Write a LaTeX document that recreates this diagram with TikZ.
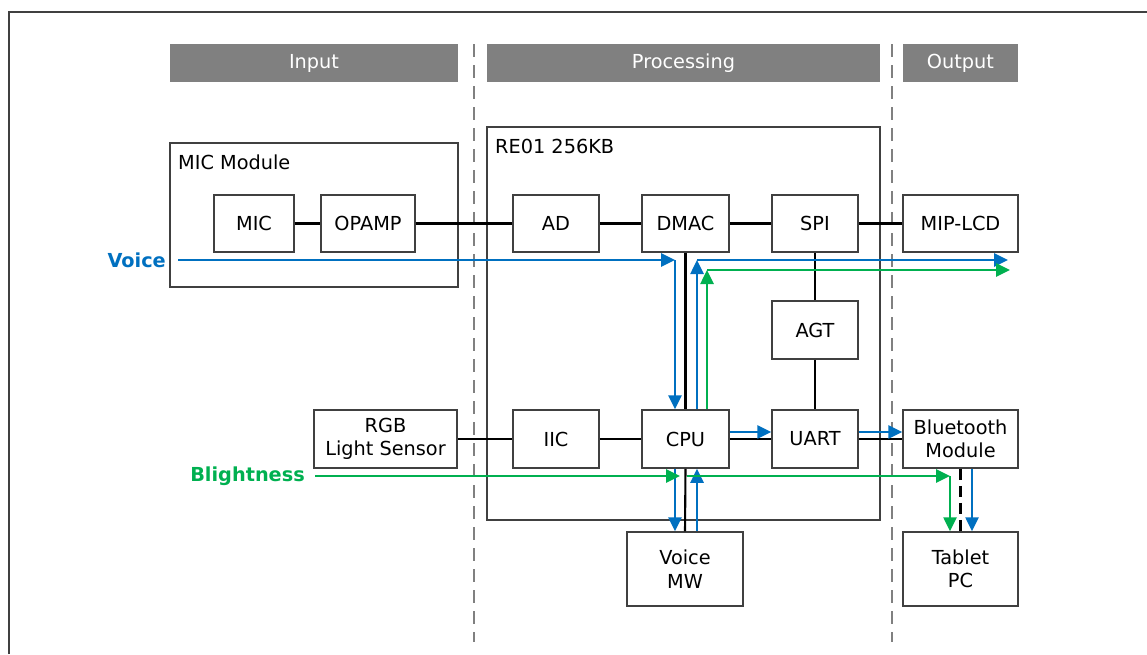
\documentclass[tikz,border=0pt]{standalone}
\usepackage{fontspec}
\setmainfont{DejaVu Sans}
\usetikzlibrary{arrows.meta,calc}
\definecolor{hdr}{HTML}{808080}
\definecolor{vblue}{HTML}{0070C0}
\definecolor{vgreen}{HTML}{00B050}
\definecolor{bord}{HTML}{404040}
\begin{document}
\begin{tikzpicture}[x=1pt,y=-1pt,
  font=\fontsize{19.3}{23.5}\selectfont,
  blk/.style={draw=bord,line width=1.5pt,fill=white,minimum height=57pt,inner sep=0pt,align=center},
  cont/.style={draw=bord,line width=1.5pt,inner sep=0pt},
  hdrbox/.style={fill=hdr,text=white,minimum height=38pt,inner sep=0pt},
  conn/.style={line width=2.1pt,black},
  sep/.style={hdr,line width=2.1pt,dash pattern=on 13pt off 8pt},
  barr/.style={line width=2.6pt,vblue,-{Triangle[length=14pt,width=13pt]}},
  garr/.style={line width=2.6pt,vgreen,-{Triangle[length=14pt,width=13pt]}}]
\useasboundingbox (0,0) rectangle (1147,654);
\draw[bord,line width=2.2pt] (9,654) -- (9,12) -- (1147,12);
% separators
\coordinate (s1t) at (474,44); \coordinate (s1b) at (474,642);
\coordinate (s2t) at (892,44); \coordinate (s2b) at (892,642);
\draw[sep] (s1t) -- (s1b);
\draw[sep] (s2t) -- (s2b);
% headers
\node[hdrbox,minimum width=288pt] (hin) at (314,63) {Input};
\node[hdrbox,minimum width=393pt] (hproc) at (683.5,63) {Processing};
\node[hdrbox,minimum width=115pt] (hout) at (960.5,63) {Output};
% containers
\node[cont,minimum width=288pt,minimum height=144pt] (micmod) at (314,215) {};
\node[anchor=west,inner sep=0pt] (micmodlbl) at (178,162) {MIC Module};
\node[cont,minimum width=393pt,minimum height=393pt] (re01) at (683.5,323.5) {};
\node[anchor=west,inner sep=0pt] (re01lbl) at (495,146) {RE01 256KB};
% blocks
\node[blk,minimum width=80pt] (mic) at (254,223.5) {MIC};
\node[blk,minimum width=94pt] (opamp) at (368,223.5) {OPAMP};
\node[blk,minimum width=86pt] (ad) at (556,223.5) {AD};
\node[blk,minimum width=87pt] (dmac) at (685.5,223.5) {DMAC};
\node[blk,minimum width=86pt] (spi) at (815,223.5) {SPI};
\node[blk,minimum width=115pt] (lcd) at (960.5,223.5) {MIP-LCD};
\node[blk,minimum width=86pt,minimum height=58pt] (agt) at (815,330) {AGT};
\node[blk,minimum width=143pt,minimum height=58pt] (rgb) at (385.5,439) {RGB\\Light Sensor};
\node[blk,minimum width=86pt,minimum height=58pt] (iic) at (556,439) {IIC};
\node[blk,minimum width=87pt,minimum height=58pt] (cpu) at (685.5,439) {CPU};
\node[blk,minimum width=86pt,minimum height=58pt] (uart) at (815,439) {UART};
\node[blk,minimum width=115pt,minimum height=58pt] (bt) at (960.5,439) {Bluetooth\\Module};
\node[blk,minimum width=116pt,minimum height=74pt] (vmw) at (685,569) {Voice\\MW};
\node[blk,minimum width=115pt,minimum height=74pt] (tab) at (960.5,569) {Tablet\\PC};
% flow labels
\node[anchor=east,inner sep=0pt,text=vblue,font=\fontsize{19.3}{23.5}\selectfont\bfseries] (voice) at (166,260) {Voice};
\node[anchor=east,inner sep=0pt,text=vgreen,font=\fontsize{19.3}{23.5}\selectfont\bfseries] (bright) at (305,476) {Blightness};
% black connectors
\draw[conn] (mic.east) -- (opamp.west);
\draw[conn] (opamp.east) -- (ad.west);
\draw[conn] (ad.east) -- (dmac.west);
\draw[conn] (dmac.east) -- (spi.west);
\draw[conn] (spi.east) -- (lcd.west);
\draw[conn] (spi.south) -- (agt.north);
\draw[conn] (agt.south) -- (uart.north);
\draw[conn] (rgb.east) -- (iic.west);
\draw[conn] (iic.east) -- (cpu.west);
\draw[conn] (cpu.east) -- (uart.west);
\draw[conn] (uart.east) -- (bt.west);
\draw[conn] (dmac.south) -- (cpu.north);
\draw[conn] (cpu.south) -- (vmw.north);
\draw[conn,dash pattern=on 11pt off 6pt] (bt.south) -- (tab.north);
% blue voice flow
\coordinate (vin) at (675,260);
\coordinate (vout) at (697,260);
\coordinate (voutend) at (1008,260);
\coordinate (gout) at (707,270);
\coordinate (goutend) at (1010,270);
\draw[barr] ([xshift=12pt]voice.east) -- (vin);
\draw[barr] (vin) -- (vin |- cpu.north);
\draw[barr] (vin |- cpu.south) -- (vin |- vmw.north);
\draw[barr] (vout |- vmw.north) -- (vout |- cpu.south);
\draw[barr] (vout |- cpu.north) -- (vout);
\draw[barr] (vout) -- (voutend);
\draw[barr] ([yshift=7pt]cpu.east) -- ([yshift=7pt]uart.west);
\draw[barr] ([yshift=7pt]uart.east) -- ([yshift=7pt]bt.west);
\draw[barr] ([xshift=11.5pt]bt.south) -- ([xshift=11.5pt]tab.north);
% green flow
\draw[garr] (gout |- cpu.north) -- (gout);
\draw[garr] (gout) -- (goutend);
\coordinate (gA) at (680,476);
\coordinate (gB) at (687,476);
\coordinate (gC) at (950,476);
\draw[garr] ([xshift=10pt]bright.east) -- (gA);
\draw[garr] (gB) -- (gC);
\draw[garr] (gC) -- (gC |- tab.north);
\end{tikzpicture}
\end{document}
